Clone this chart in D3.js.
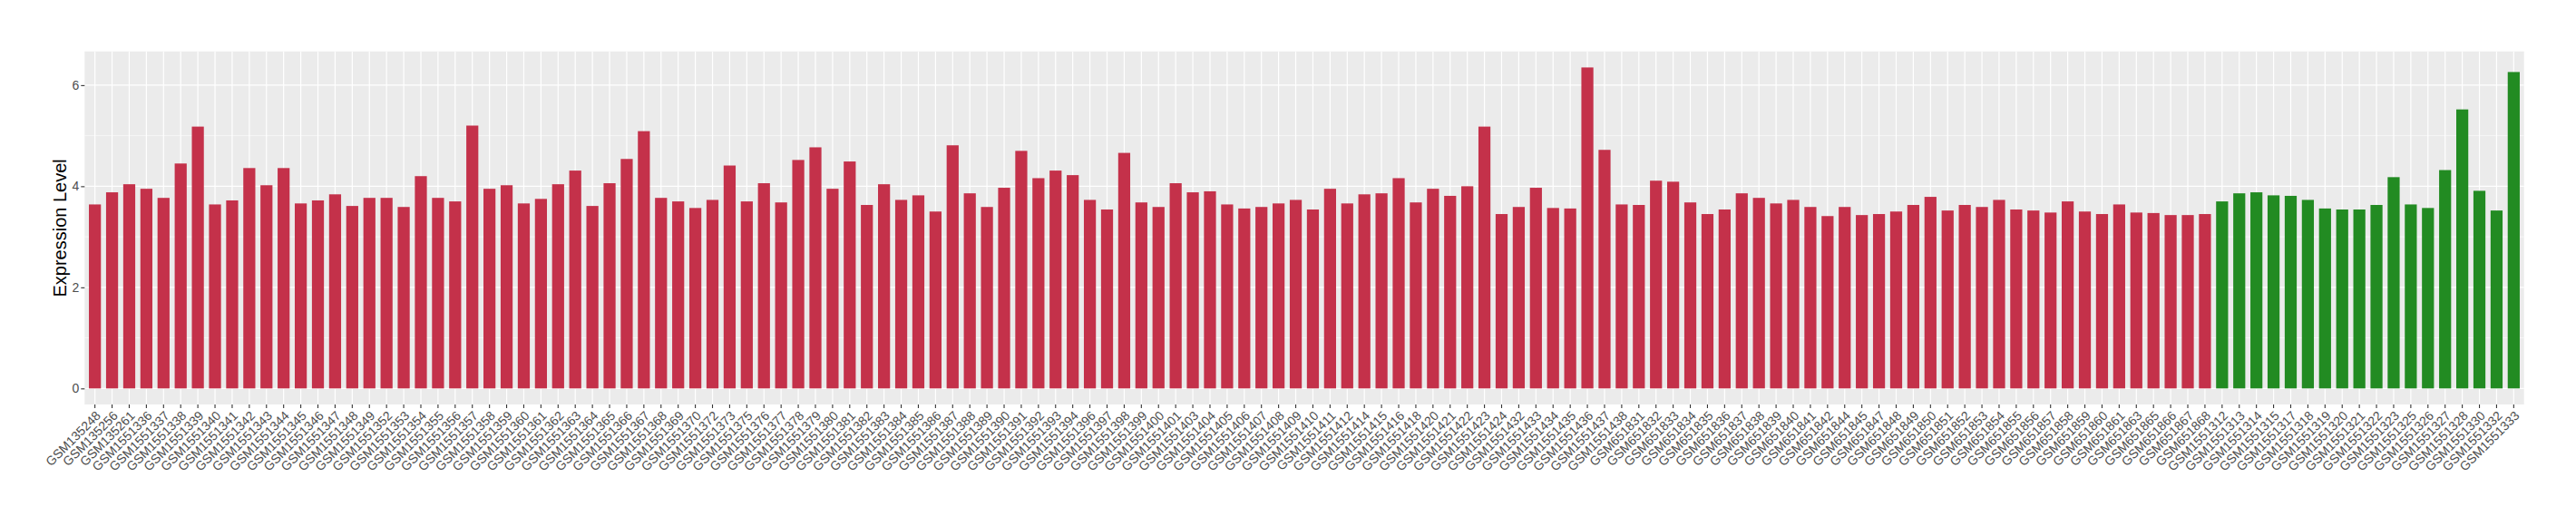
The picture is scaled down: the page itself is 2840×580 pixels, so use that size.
<!DOCTYPE html>
<html><head><meta charset="utf-8">
<script src="https://cdn.jsdelivr.net/npm/d3@7"></script>
<style>body{margin:0;background:#fff}</style>
</head><body><svg id="c" width="2840" height="580"></svg>
<script>
const samplesRed = [
"GSM135248","GSM135256","GSM135261","GSM1551336","GSM1551337","GSM1551338","GSM1551339","GSM1551340","GSM1551341","GSM1551342","GSM1551343","GSM1551344","GSM1551345","GSM1551346","GSM1551347","GSM1551348","GSM1551349","GSM1551352","GSM1551353","GSM1551354","GSM1551355","GSM1551356","GSM1551357","GSM1551358","GSM1551359","GSM1551360","GSM1551361","GSM1551362","GSM1551363","GSM1551364","GSM1551365","GSM1551366","GSM1551367","GSM1551368","GSM1551369",
"GSM1551370","GSM1551372","GSM1551373","GSM1551375","GSM1551376","GSM1551377","GSM1551378","GSM1551379","GSM1551380","GSM1551381","GSM1551382","GSM1551383","GSM1551384",
"GSM1551385","GSM1551386","GSM1551387","GSM1551388","GSM1551389","GSM1551390","GSM1551391","GSM1551392","GSM1551393","GSM1551394","GSM1551396","GSM1551397","GSM1551398","GSM1551399",
"GSM1551400","GSM1551401","GSM1551403","GSM1551404","GSM1551405","GSM1551406","GSM1551407","GSM1551408","GSM1551409","GSM1551410","GSM1551411","GSM1551412","GSM1551414",
"GSM1551415","GSM1551416","GSM1551418","GSM1551420","GSM1551421","GSM1551422","GSM1551423","GSM1551424","GSM1551432","GSM1551433","GSM1551434","GSM1551435","GSM1551436",
"GSM1551437","GSM1551438","GSM651831","GSM651832","GSM651833","GSM651834","GSM651835","GSM651836","GSM651837","GSM651838","GSM651839","GSM651840","GSM651841",
"GSM651842","GSM651844","GSM651845","GSM651847","GSM651848","GSM651849","GSM651850","GSM651851","GSM651852","GSM651853","GSM651854","GSM651855","GSM651856",
"GSM651857","GSM651858","GSM651859","GSM651860","GSM651861","GSM651863","GSM651865","GSM651866","GSM651867","GSM651868"];
const valuesRed = [
3.64,3.88,4.04,3.95,3.77,4.45,5.18,3.64,3.72,
4.36,4.02,4.36,3.66,3.72,3.84,3.61,3.77,3.77,3.59,4.20,3.77,3.70,
5.20,3.95,4.02,3.66,3.75,4.04,4.31,3.61,4.06,4.54,5.09,3.77,3.70,
3.57,3.73,4.41,3.70,4.06,3.68,4.52,4.77,3.95,4.49,3.63,4.04,3.73,
3.82,3.50,4.81,3.86,3.59,3.97,4.70,4.16,4.31,4.22,3.73,3.54,4.66,3.68,
3.59,4.06,3.88,3.90,3.64,3.56,3.59,3.66,3.73,3.54,3.95,3.66,3.84,
3.86,4.16,3.68,3.95,3.81,4.00,5.18,3.45,3.59,3.97,3.57,3.56,6.35,
4.72,3.64,3.63,4.11,4.09,3.68,3.45,3.54,3.86,3.77,3.66,3.73,3.59,
3.41,3.59,3.43,3.45,3.50,3.63,3.79,3.52,3.63,3.59,3.73,3.54,3.52,
3.48,3.70,3.50,3.45,3.64,3.48,3.47,3.43,3.43,3.45];
const samplesGreen = ["GSM1551312","GSM1551313","GSM1551314","GSM1551315","GSM1551317","GSM1551318","GSM1551319","GSM1551320","GSM1551321","GSM1551322","GSM1551323","GSM1551325","GSM1551326","GSM1551327","GSM1551328","GSM1551330","GSM1551332","GSM1551333"];
const valuesGreen = [3.70,3.86,3.88,3.82,3.81,3.73,3.56,3.54,3.54,3.63,4.18,3.64,3.57,4.32,5.52,3.91,3.52,6.26];
const yTicks = [0,2,4,6];
const yMinor = [1,3,5];
const yTitle = "Expression Level";

const colorRed = "#C4314A", colorGreen = "#228B22";
const data = samplesRed.map((s,i)=>({s, v: valuesRed[i], c: colorRed}))
  .concat(samplesGreen.map((s,i)=>({s, v: valuesGreen[i], c: colorGreen})));

const L = 93.3, R = 2782.7, T = 56.7, B = 446;
const svg = d3.select("#c");
const font = "'Liberation Sans', Arial, Helvetica, sans-serif";

const maxV = d3.max(data, d=>d.v);
const y = d3.scaleLinear().domain([-0.05*maxV, maxV*1.05]).range([B, T]);
const x = d3.scaleBand().domain(data.map(d=>d.s)).range([L, R]).paddingInner(0.3).paddingOuter(0.25);

svg.append("rect").attr("x", L).attr("y", T).attr("width", R-L).attr("height", B-T).attr("fill", "#EBEBEB");
const g = svg.append("g");
g.selectAll("line.minor").data(yMinor).join("line")
  .attr("x1", L).attr("x2", R).attr("y1", d=>y(d)).attr("y2", d=>y(d))
  .attr("stroke", "#fff").attr("stroke-width", 0.6);
g.selectAll("line.major").data(yTicks).join("line")
  .attr("x1", L).attr("x2", R).attr("y1", d=>y(d)).attr("y2", d=>y(d))
  .attr("stroke", "#fff").attr("stroke-width", 1.2);
g.selectAll("line.vx").data(data).join("line")
  .attr("x1", d=>x(d.s)+x.bandwidth()/2).attr("x2", d=>x(d.s)+x.bandwidth()/2)
  .attr("y1", T).attr("y2", B).attr("stroke", "#fff").attr("stroke-width", 1.2);

svg.append("g").selectAll("rect").data(data).join("rect")
  .attr("x", d=>x(d.s)).attr("width", x.bandwidth())
  .attr("y", d=>y(d.v)).attr("height", d=>y(0)-y(d.v))
  .attr("fill", d=>d.c);

const ya = svg.append("g").attr("transform", `translate(${L},0)`)
  .call(d3.axisLeft(y).tickValues(yTicks).tickSize(4).tickPadding(2).tickFormat(d3.format("d")));
ya.select(".domain").remove();
ya.selectAll("line").attr("stroke", "#333333").attr("stroke-width", 1.1);
ya.selectAll("text").attr("fill", "#4D4D4D").style("font-family", font).style("font-size", "14px");

const xa = svg.append("g").attr("transform", `translate(0,${B})`)
  .call(d3.axisBottom(x).tickSize(4).tickPadding(0));
xa.select(".domain").remove();
xa.selectAll("line").attr("stroke", "#333333").attr("stroke-width", 1.1);
xa.selectAll("text")
  .attr("fill", "#4D4D4D").style("font-family", font).style("font-size", "14px")
  .attr("text-anchor", "end").attr("y", 0).attr("dy", "0.72em")
  .attr("transform", "translate(0,6) rotate(-45)");

svg.append("text").attr("transform", `translate(72.5,${(T+B)/2}) rotate(-90)`)
  .attr("text-anchor", "middle").style("font-family", font).style("font-size", "20px")
  .attr("fill", "#000").text(yTitle);
</script></body></html>
